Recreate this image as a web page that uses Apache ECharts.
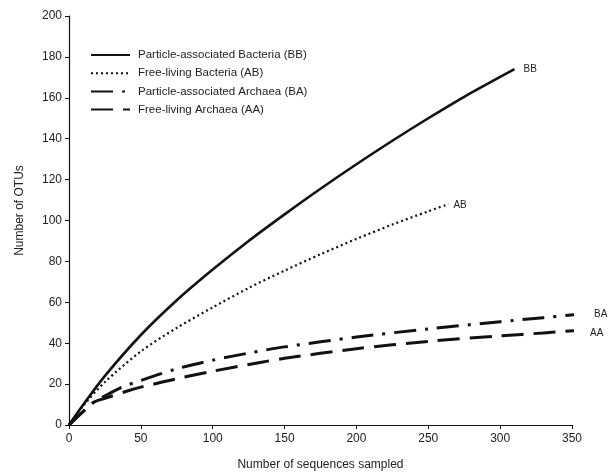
<!DOCTYPE html>
<html>
<head>
<meta charset="utf-8">
<script src="https://cdn.jsdelivr.net/npm/echarts@6/dist/echarts.min.js"></script>
<style>html,body{margin:0;padding:0;background:#fff;}#c{width:613px;height:476px;}</style>
</head>
<body>
<div id="c"></div>
<script>
const seriesNames = ['Particle-associated Bacteria (BB)', 'Free-living Bacteria (AB)', 'Particle-associated Archaea (BA)', 'Free-living Archaea (AA)'];
const endTags = ['BB', 'AB', 'BA', 'AA'];

const bbX = [0, 10, 25, 50, 75, 100, 125, 150, 175, 200, 225, 250, 275, 310];
const bbY = [0, 10, 24, 44, 61, 76, 90, 103, 115.5, 127.5, 139, 150, 160.5, 174];

const abX = [0, 10, 25, 50, 75, 100, 125, 150, 175, 200, 225, 250, 264];
const abY = [0, 9.5, 21, 36, 47.5, 57.5, 67, 75.5, 83.5, 91, 98, 104.5, 108];

const baX = [0, 17, 25, 37, 50, 75, 100, 126, 150, 200, 250, 300, 330, 360];
const baY = [0, 11, 14.2, 18.5, 21.8, 27.5, 31.7, 35.3, 38.2, 43, 47, 50.5, 52.5, 54.5];

const aaX = [0, 17, 25, 40, 50, 80, 100, 133, 150, 200, 250, 300, 330, 355];
const aaY = [0, 11, 13, 16.5, 18.5, 23.4, 26.3, 30.6, 32.6, 37.3, 40.9, 43.6, 45, 46.3];

const xTicks = [0, 50, 100, 150, 200, 250, 300, 350];
const yTicks = [0, 20, 40, 60, 80, 100, 120, 140, 160, 180, 200];

function pairs(xs, ys) { return xs.map((x, i) => [x, ys[i]]); }

const FONT = 'Liberation Sans, Arial, sans-serif';
const TXT = '#222';

const styles = [
  { width: 2.6, type: 'solid' },
  { width: 2.2, type: [2, 3] },
  { width: 3, type: [22, 9, 3, 9] },
  { width: 3, type: [22, 10] }
];
const labelOffsets = [[4, 0], [0, 1], [15, 0], [11, 3]];
const datas = [pairs(bbX, bbY), pairs(abX, abY), pairs(baX, baY), pairs(aaX, aaY)];

const chart = echarts.init(document.getElementById('c'), null, { renderer: 'canvas' });
chart.setOption({
  animation: false,
  backgroundColor: '#fff',
  grid: { left: 69, right: 41, top: 16, bottom: 51, containLabel: false },
  legend: {
    orient: 'vertical',
    left: 90,
    top: 49,
    padding: 0,
    itemWidth: 39,
    itemHeight: 14,
    itemGap: 6.2,
    data: seriesNames,
    itemStyle: { opacity: 0, color: 'rgba(0,0,0,0)', borderWidth: 0 },
    textStyle: { fontSize: 11.5, color: TXT, fontFamily: FONT, padding: [0, 0, 0, 3] }
  },
  xAxis: {
    type: 'value', min: xTicks[0], max: xTicks[xTicks.length - 1], interval: 50,
    name: 'Number of sequences sampled', nameLocation: 'middle', nameGap: 34,
    nameTextStyle: { fontSize: 12, color: TXT, fontFamily: FONT },
    axisLine: { lineStyle: { color: '#111', width: 1.2 } },
    axisTick: { show: true, length: 4, lineStyle: { color: '#111' } },
    axisLabel: { fontSize: 12, color: TXT, fontFamily: FONT, margin: 8 },
    splitLine: { show: false }
  },
  yAxis: {
    type: 'value', min: yTicks[0], max: yTicks[yTicks.length - 1], interval: 20,
    name: 'Number of OTUs', nameLocation: 'middle', nameGap: 43,
    nameTextStyle: { fontSize: 12, color: TXT, fontFamily: FONT, padding: [0, 0, 0, 20] },
    axisLine: { show: true, lineStyle: { color: '#111', width: 1.2 } },
    axisTick: { show: true, length: 4, lineStyle: { color: '#111' } },
    axisLabel: { fontSize: 12, color: TXT, fontFamily: FONT, margin: 7 },
    splitLine: { show: false }
  },
  series: datas.map((d, i) => ({
    name: seriesNames[i],
    type: 'line',
    data: d,
    symbol: 'none',
    smooth: 0.3,
    clip: false,
    color: '#111',
    lineStyle: { color: '#111', width: styles[i].width, type: styles[i].type, cap: 'butt' },
    endLabel: {
      show: true,
      formatter: endTags[i],
      fontSize: 10,
      color: TXT,
      fontFamily: FONT,
      distance: 5,
      offset: labelOffsets[i]
    }
  }))
});
</script>
</body>
</html>
